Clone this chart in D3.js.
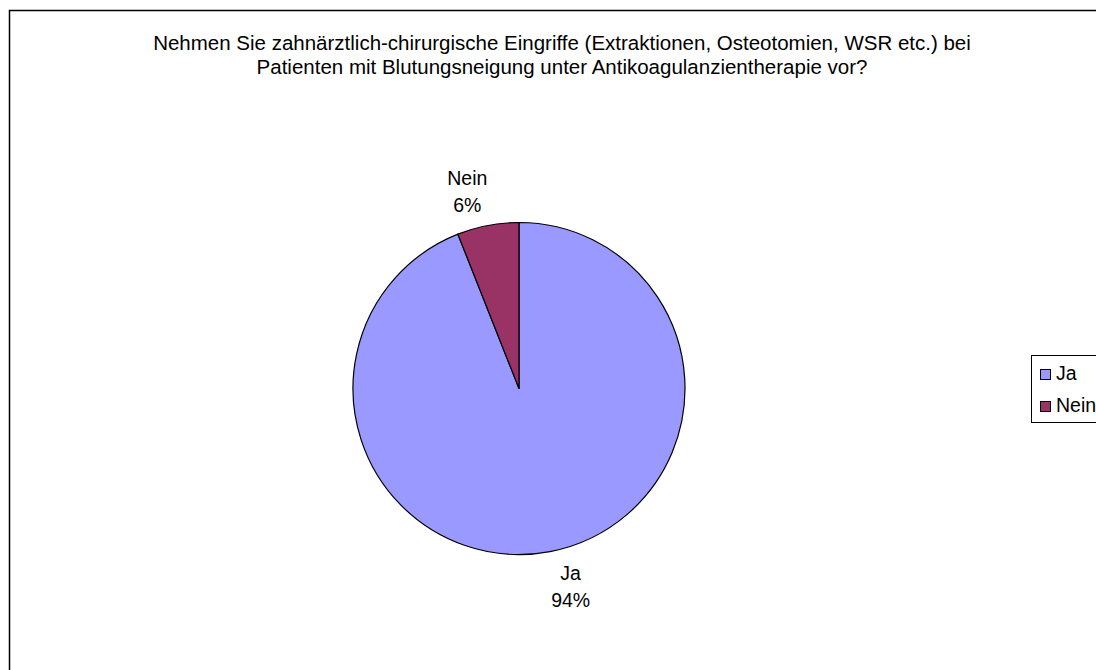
<!DOCTYPE html>
<html>
<head>
<meta charset="utf-8">
<script src="https://cdn.jsdelivr.net/npm/d3@7"></script>
<style>
  body { margin: 0; background: #fff; }
  svg { display: block; font-family: "Liberation Sans", Arial, sans-serif; }
</style>
</head>
<body>
<svg id="chart"></svg>
<script>
var categories = ['Ja', 'Nein'];
var values = [94, 6];
var colors = ['#9999FF', '#993366'];
var titleLines = [
  'Nehmen Sie zahnärztlich-chirurgische Eingriffe (Extraktionen, Osteotomien, WSR etc.) bei',
  'Patienten mit Blutungsneigung unter Antikoagulanzientherapie vor?'
];

(function () {
  var width = 1096, height = 670;
  var svg = d3.select('#chart')
      .attr('width', width)
      .attr('height', height);

  // chart area border (right and bottom edges fall outside the window)
  svg.append('rect')
    .attr('x', 9.5).attr('y', 10.5)
    .attr('width', 1200).attr('height', 1000)
    .style('fill', '#fff')
    .style('stroke', '#000')
    .style('stroke-width', 1.5);

  svg.append('g').selectAll('text')
    .data(titleLines)
    .enter().append('text')
    .attr('x', 562)
    .attr('y', function(d, i) { return 50 + i * 24; })
    .style('font-size', '20.5px')
    .style('text-anchor', 'middle')
    .attr('fill', '#000')
    .text(function(d) { return d; });

  var cx = 519, cy = 388.5, radius = 166;
  var total = d3.sum(values);
  var data = categories.map(function(c, i) { return {name: c, value: values[i], color: colors[i]}; });

  var pie = d3.pie().sort(null).value(function(d) { return d.value; });
  var arc = d3.arc().innerRadius(0).outerRadius(radius);
  var arcs = pie(data);

  var g = svg.append('g').attr('transform', 'translate(' + cx + ',' + cy + ')');

  g.selectAll('path')
    .data(arcs)
    .enter().append('path')
    .attr('d', arc)
    .style('fill', function(d) { return d.data.color; })
    .style('stroke', '#000')
    .style('stroke-width', 1.2)
    .style('stroke-linejoin', 'round');

  var labelR = 201;
  var labels = g.selectAll('.label')
      .data(arcs)
      .enter().append('text')
      .attr('class', 'label')
      .attr('transform', function(d) {
        var a = (d.startAngle + d.endAngle) / 2;
        var s = Math.sin(a);
        var x = s * labelR + (s < 0 ? -14 : 14);
        var y = -Math.cos(a) * labelR;
        return 'translate(' + x + ',' + y + ')';
      })
      .style('font-size', '19.5px')
      .style('text-anchor', 'middle')
      .attr('fill', '#000');

  labels.append('tspan')
    .attr('x', 0).attr('y', -6)
    .text(function(d) { return d.data.name; });
  labels.append('tspan')
    .attr('x', 0).attr('y', 21)
    .text(function(d) { return Math.round(d.data.value / total * 100) + '%'; });

  // legend
  var legend = svg.append('g').attr('transform', 'translate(1031,355)');
  legend.append('rect')
    .attr('x', 0.5).attr('y', 0.5)
    .attr('width', 120).attr('height', 67)
    .style('fill', '#fff')
    .style('stroke', '#000');

  var items = legend.selectAll('.item')
      .data(data)
      .enter().append('g')
      .attr('class', 'item')
      .attr('transform', function(d, i) { return 'translate(9,' + (14 + i * 32) + ')'; });

  items.append('rect')
    .attr('x', 0.5).attr('y', 0.5)
    .attr('width', 10).attr('height', 10)
    .style('fill', function(d) { return d.color; })
    .style('stroke', '#000');

  items.append('text')
    .attr('x', 16).attr('y', 11)
    .style('font-size', '19.5px')
    .attr('fill', '#000')
    .text(function(d) { return d.name; });
})();
</script>
</body>
</html>
